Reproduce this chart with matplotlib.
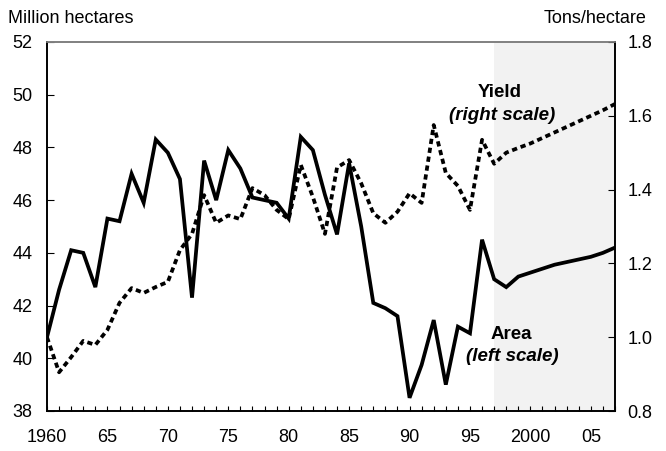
import numpy as np
import matplotlib.pyplot as plt

# ==================== DATOS ====================
years = np.arange(1960, 2008)

# Area (million hectares, left scale)
area = [40.8, 42.6, 44.1, 44.0, 42.7, 45.3, 45.2, 47.0, 45.9, 48.3,
        47.8, 46.8, 42.3, 47.5, 46.0, 47.9, 47.2, 46.1, 46.0, 45.9,
        45.3, 48.4, 47.9, 46.2, 44.7, 47.4, 45.0, 42.1, 41.9, 41.6,
        38.5, 39.75, 41.45, 39.0, 41.2, 40.95, 44.5, 43.0, 42.7, 43.1,
        43.25, 43.4, 43.55, 43.65, 43.75, 43.85, 44.0, 44.2]

# Yield (tons/hectare, right scale)
yield_t = [1.0, 0.905, 0.946, 0.99, 0.979, 1.02, 1.093, 1.133, 1.12, 1.136,
           1.15, 1.236, 1.28, 1.385, 1.31, 1.33, 1.32, 1.404, 1.385, 1.345,
           1.32, 1.467, 1.38, 1.28, 1.46, 1.48, 1.417, 1.336, 1.31, 1.34,
           1.39, 1.364, 1.575, 1.445, 1.41, 1.345, 1.535, 1.47, 1.50, 1.513,
           1.525, 1.54, 1.555, 1.57, 1.585, 1.60, 1.615, 1.632]

proj_start, proj_end = 1997, 2007

x_ticks = [1960, 1965, 1970, 1975, 1980, 1985, 1990, 1995, 2000, 2005]
x_labels = ['1960', '65', '70', '75', '80', '85', '90', '95', '2000', '05']
left_ticks = [38, 40, 42, 44, 46, 48, 50, 52]
right_ticks = [0.8, 1.0, 1.2, 1.4, 1.6, 1.8]
right_labels = ['0.8', '1.0', '1.2', '1.4', '1.6', '1.8']

# ==================== FIGURA ====================
plt.rcParams['font.family'] = ['Liberation Sans', 'DejaVu Sans']
fs = 13

fig = plt.figure(figsize=(6.66, 4.51), dpi=100)
ax = fig.add_axes([47/666, 1 - 411/451, 568/666, 369/451])
ax2 = ax.twinx()

ax.axvspan(proj_start, proj_end, color='#f2f2f2', zorder=0, lw=0)
ax.plot(years, area, color='black', lw=2.7, solid_joinstyle='miter', zorder=3)
ax2.plot(years, yield_t, color='black', lw=2.7, linestyle=(0, (1.4, 1.0)), zorder=3)

ax.set_xlim(1960, 2007)
ax.set_ylim(38, 52)
ax2.set_ylim(0.8, 1.8)

ax.set_xticks(x_ticks)
ax.set_xticklabels(x_labels, fontsize=fs)
ax.set_xticks(years, minor=True)
ax.set_yticks(left_ticks)
ax.set_yticklabels([str(v) for v in left_ticks], fontsize=fs)
ax2.set_yticks(right_ticks)
ax2.set_yticklabels(right_labels, fontsize=fs)

ax.tick_params(axis='x', which='both', direction='in', length=3.6, width=0.8, pad=13)
ax.tick_params(axis='y', direction='in', length=5, width=0.8, pad=10.5)
ax2.tick_params(axis='y', direction='in', length=5, width=0.8, pad=9)

for a in (ax, ax2):
    for s in a.spines.values():
        s.set_linewidth(1.2)
    a.spines['top'].set_color('#808080')

# Textos
ax.text(0.7975, 0.862, 'Yield', transform=ax.transAxes, ha='center', va='center',
        fontsize=fs + 0.5, fontweight='bold')
ax.text(0.801, 0.802, '(right scale)', transform=ax.transAxes, ha='center', va='center',
        fontsize=fs + 0.5, fontweight='bold', fontstyle='italic')
ax.text(0.817, 0.206, 'Area', transform=ax.transAxes, ha='center', va='center',
        fontsize=fs + 0.5, fontweight='bold')
ax.text(0.820, 0.149, '(left scale)', transform=ax.transAxes, ha='center', va='center',
        fontsize=fs + 0.5, fontweight='bold', fontstyle='italic')

fig.text(8/666, 1 - 23/451, 'Million hectares', ha='left', va='baseline', fontsize=fs)
fig.text(647/666, 1 - 23/451, 'Tons/hectare', ha='right', va='baseline', fontsize=fs)

fig.savefig('out.png', dpi=100)
